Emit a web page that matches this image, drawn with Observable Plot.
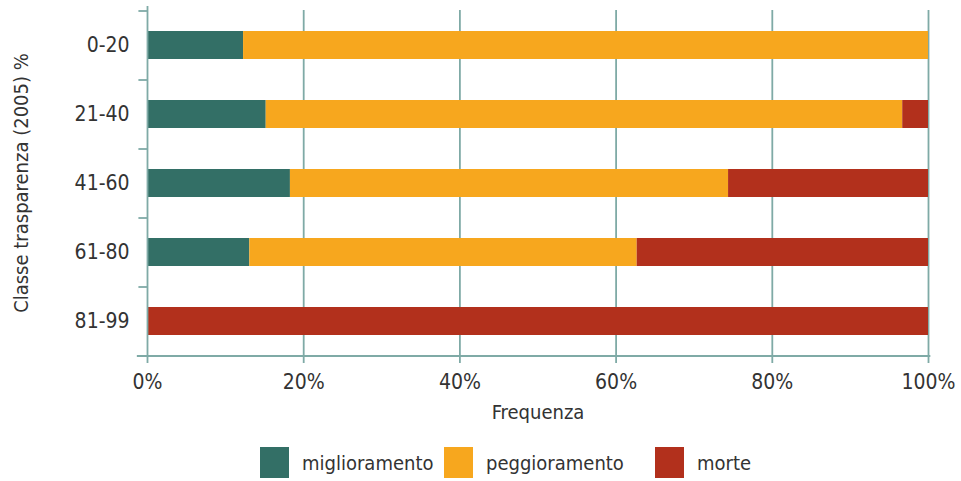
<!DOCTYPE html>
<html>
<head>
<meta charset="utf-8">
<script src="https://cdn.jsdelivr.net/npm/d3@7"></script>
<script src="https://cdn.jsdelivr.net/npm/@observablehq/plot@0.6"></script>
<style>
  html, body { margin: 0; padding: 0; background: #fff; }
  body { width: 961px; height: 481px; overflow: hidden; font-family: "DejaVu Sans Condensed", "Liberation Sans Narrow", sans-serif; color: #333; }
  #legend { display: flex; align-items: center; margin-left: 260px; margin-top: 17px; font-size: 20px; }
  .item { display: flex; align-items: center; }
  .sw { width: 29px; height: 31px; margin-right: 13px; flex: none; }
</style>
</head>
<body>
<div id="chart"></div>
<div id="legend"></div>
<script>
const classes = ["0-20", "21-40", "41-60", "61-80", "81-99"];
const series = ["miglioramento", "peggioramento", "morte"];
const colors = ["#336f66", "#f7a71e", "#b2301c"];
const miglioramento = [12.3, 15.2, 18.3, 13.1, 0];
const peggioramento = [87.7, 81.5, 56.1, 49.6, 0];
const morte = [0, 3.3, 25.6, 37.3, 100];
const xTicks = [0, 20, 40, 60, 80, 100];

const valuesBySeries = [miglioramento, peggioramento, morte];
const data = [];
series.forEach((s, si) => classes.forEach((c, ci) => data.push({classe: c, serie: s, value: valuesBySeries[si][ci]})));

const axisColor = "#7faaa6";
const font = '"DejaVu Sans Condensed", "Liberation Sans Narrow", sans-serif';

const chart = Plot.plot({
  width: 961,
  height: 430,
  marginLeft: 147,
  marginRight: 33,
  marginTop: 10,
  marginBottom: 75,
  style: {fontFamily: font, fontSize: "20px", color: "#333", background: "#fff"},
  x: {domain: [0, 100]},
  y: {domain: classes, paddingInner: 0.6, paddingOuter: 0.3},
  color: {domain: series, range: colors},
  marks: [
    Plot.ruleX(xTicks.filter(d => d > 0), {x: d => d, stroke: axisColor, strokeWidth: 1.8, insetBottom: -8}),
    Plot.barX(data, {x: "value", y: "classe", fill: "serie", order: series}),
    Plot.ruleX([0], {stroke: axisColor, strokeWidth: 1.8, insetTop: -4, insetBottom: -8}),
    Plot.ruleY(classes, {y: d => d, x1: -1.1, x2: 0, dy: -34.5, stroke: axisColor, strokeWidth: 1.8}),
    Plot.ruleY(classes.slice(-1), {y: d => d, x1: -1.3, x2: 100.3, dy: 34.5, stroke: axisColor, strokeWidth: 1.8}),
    Plot.axisX(xTicks, {tickSize: 0, tickPadding: 19, fontSize: 21, tickFormat: d => d + "%", label: null, fill: "#333"}),
    Plot.axisX({tickSize: 0, ticks: [], label: "Frequenza", labelArrow: "none", labelAnchor: "center", labelOffset: 63, fill: "#333"}),
    Plot.axisY({tickSize: 0, tickPadding: 18, fontSize: 21, label: null, fill: "#333"}),
    Plot.axisY({tickSize: 0, ticks: [], label: "Classe trasparenza (2005) %", labelArrow: "none", labelAnchor: "center", labelOffset: 134, fill: "#333"})
  ]
});
document.getElementById("chart").appendChild(chart);

const legend = document.getElementById("legend");
const itemWidths = ["184px", "211px", "auto"];
series.forEach((s, i) => {
  const item = document.createElement("div");
  item.className = "item";
  item.style.width = itemWidths[i];
  const sw = document.createElement("div");
  sw.className = "sw";
  sw.style.background = colors[i];
  const lab = document.createElement("span");
  lab.textContent = s;
  item.appendChild(sw);
  item.appendChild(lab);
  legend.appendChild(item);
});
</script>
</body>
</html>
